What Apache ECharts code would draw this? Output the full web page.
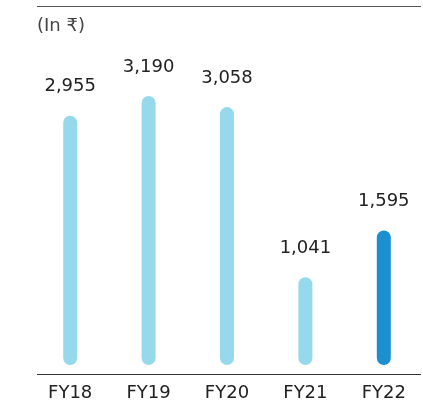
<!DOCTYPE html>
<html>
<head>
<meta charset="utf-8">
<script src="https://cdn.jsdelivr.net/npm/echarts@6/dist/echarts.min.js"></script>
<style>
  html, body { margin: 0; padding: 0; background: #fff; }
  #chart { width: 423px; height: 400px; }
</style>
</head>
<body>
<div id="chart"></div>
<script>
// Fiscal years and values (₹)
const years = ['FY18', 'FY19', 'FY20', 'FY21', 'FY22'];
const values = [2955, 3190, 3058, 1041, 1595];
const unitLabel = '(In ₹)';

const lightBlue = '#96D9EC';
const darkBlue = '#1B8FCF';
const font = 'DejaVu Sans';

const chart = echarts.init(document.getElementById('chart'));
chart.setOption({
  animation: false,
  grid: { left: 31, right: 0, top: 6, bottom: 26, containLabel: false, outerBoundsMode: 'none' },
  xAxis: {
    type: 'category',
    data: years,
    axisLine: { show: false },
    axisTick: { show: false },
    axisLabel: {
      color: '#222',
      fontFamily: font,
      fontSize: 18,
      margin: 10
    }
  },
  yAxis: {
    type: 'value',
    show: false,
    min: -107,
    max: 4257
  },
  series: [{
    type: 'bar',
    barWidth: 14,
    data: values.map((v, i) => ({
      value: v,
      itemStyle: { color: i === values.length - 1 ? darkBlue : lightBlue }
    })),
    itemStyle: { borderRadius: 7 },
    label: {
      show: true,
      position: 'top',
      distance: 20,
      color: '#222',
      fontFamily: font,
      fontSize: 18,
      formatter: p => p.value.toLocaleString('en-US')
    }
  }],
  graphic: [
    { type: 'line', shape: { x1: 37, y1: 6.5, x2: 421, y2: 6.5 },
      style: { stroke: '#555', lineWidth: 1 } },
    { type: 'line', shape: { x1: 37, y1: 374.5, x2: 421, y2: 374.5 },
      style: { stroke: '#333', lineWidth: 1 } },
    { type: 'text', left: 37, top: 17,
      style: { text: unitLabel, fill: '#444', fontSize: 18, fontFamily: font } }
  ]
});
</script>
</body>
</html>
